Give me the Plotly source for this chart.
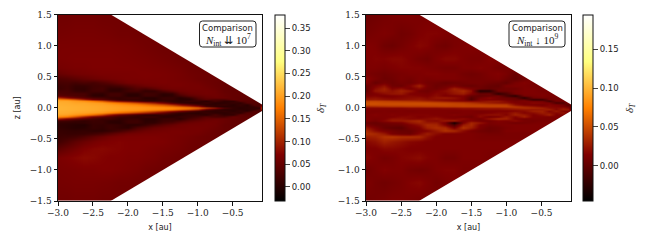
import numpy as np
import plotly.graph_objects as go

x_cols = [-3,-2.875,-2.75,-2.625,-2.5,-2.375,-2.25,-2.125,-2,-1.875,-1.75,-1.625,-1.5,-1.375,-1.25,-1.125,-1,-.875,-.75,-.625,-.5,-.4,-.3,-.2,-.12,-.08]
z_rows = [1.5,1.2,1.0,.8,.65,.55,.47,.41,.36,.31,.27,.23,.2,.17,.14,.11,.08,.05,.025,0,
          -.025,-.05,-.08,-.11,-.14,-.17,-.2,-.23,-.27,-.31,-.36,-.41,-.47,-.55,-.65,-.8,-1.0,-1.2,-1.5]

# delta_T, in units of 0.001
delta_left = [
[60,60,62,62,62,60,60,60,60,60,60,60,60,60,60,60,60,60,60,60,60,60,60,60,60,60],
[64,65,66,66,66,65,64,62,62,60,60,60,60,60,60,60,60,60,60,60,60,60,60,60,60,60],
[68,68,68,68,68,68,68,67,66,64,62,60,58,58,58,58,58,58,58,58,58,58,58,58,58,58],
[68,69,70,70,70,70,70,69,68,67,66,64,62,60,58,57,56,56,56,56,56,56,56,56,56,56],
[64,66,68,68,70,70,70,70,70,69,68,67,66,64,62,58,56,56,56,56,55,55,55,55,55,55],
[52,58,62,64,66,68,68,68,68,69,70,69,68,66,64,60,58,56,55,55,55,55,55,55,55,55],
[34,38,44,50,56,60,64,66,68,68,69,68,68,66,64,62,58,56,55,55,55,55,55,55,55,55],
[26,28,24,30,26,34,42,54,62,64,66,66,68,66,66,64,62,58,55,52,52,52,52,52,52,52],
[20,24,14,14,22,24,22,28,40,50,58,62,64,66,66,64,64,60,56,52,50,50,50,50,50,50],
[18,24,12,10,22,26,10,8,22,36,30,44,58,62,62,64,64,62,58,52,50,50,50,50,50,50],
[26,28,14,12,24,24,8,8,24,28,12,14,36,50,60,62,62,62,60,52,50,50,50,50,50,50],
[34,30,30,28,10,8,24,24,6,6,22,20,6,10,44,56,60,62,60,54,50,50,50,50,50,50],
[44,38,32,28,8,6,22,22,4,4,20,18,4,8,26,44,52,58,60,54,50,50,50,50,50,50],
[110,80,60,44,30,26,14,12,18,18,2,2,16,16,2,14,40,52,56,56,50,48,48,48,48,48],
[190,175,150,110,70,50,30,14,14,12,8,4,14,14,2,0,26,40,30,30,52,46,45,45,45,45],
[205,205,195,185,165,135,95,60,40,24,8,6,12,4,2,14,14,4,28,10,10,44,42,42,40,40],
[212,210,205,205,200,195,180,165,150,130,110,90,60,30,12,4,4,16,6,6,14,8,38,38,35,35],
[214,212,210,208,205,202,198,192,185,178,165,150,135,110,80,50,25,8,8,14,4,14,4,36,30,60],
[216,214,212,210,208,205,202,198,195,192,188,182,175,165,150,130,100,40,14,4,8,8,6,12,30,110],
[216,214,212,210,208,205,203,200,197,195,192,190,188,185,178,170,155,125,90,35,10,4,8,10,6,150],
[216,214,212,210,208,205,202,198,195,192,188,182,175,165,150,130,100,40,14,4,8,8,6,12,30,110],
[214,212,210,208,205,202,198,192,185,178,165,148,130,105,78,48,25,10,8,14,4,14,4,36,30,60],
[212,210,205,203,198,192,178,160,145,125,105,85,55,28,12,6,4,14,8,6,14,8,38,38,35,35],
[205,202,192,180,160,130,90,55,36,22,10,6,14,6,4,14,12,6,28,10,10,44,42,42,40,40],
[185,170,140,100,64,44,30,18,14,8,14,14,4,6,14,16,26,40,30,30,52,46,45,45,45,45],
[100,70,50,36,24,16,20,8,14,14,4,4,16,18,6,28,40,52,56,56,50,48,48,48,48,48],
[24,22,16,10,18,16,6,6,20,20,6,6,18,20,30,44,52,58,60,54,50,50,50,50,50,50],
[12,10,8,10,16,16,6,4,18,18,8,10,26,34,48,56,60,62,60,54,50,50,50,50,50,50],
[8,6,2,0,14,12,16,12,6,6,16,30,42,52,60,62,62,62,60,52,50,50,50,50,50,50],
[10,6,2,4,14,10,18,12,8,32,42,54,58,62,62,64,64,62,58,52,50,50,50,50,50,50],
[14,12,10,12,8,8,14,24,38,50,58,62,64,66,66,64,64,60,56,52,50,50,50,50,50,50],
[16,14,14,16,22,30,42,54,62,64,66,66,68,66,66,64,62,58,55,52,52,52,52,52,52,52],
[18,20,24,34,46,56,64,68,70,70,70,70,68,66,64,62,58,56,55,55,55,55,55,55,55,55],
[22,34,46,56,64,70,72,74,72,72,72,71,70,66,64,60,58,56,55,55,55,55,55,55,55,55],
[44,54,62,72,76,78,76,74,72,72,70,68,66,64,62,58,56,56,56,56,55,55,55,55,55,55],
[68,72,76,80,78,74,72,72,70,70,68,66,62,60,58,57,56,56,56,56,56,56,56,56,56,56],
[66,67,68,70,70,72,72,70,68,66,62,60,58,58,58,58,58,58,58,58,58,58,58,58,58,58],
[64,65,66,66,66,65,64,62,62,60,60,60,60,60,60,60,60,60,60,60,60,60,60,60,60,60],
[60,60,62,62,62,60,60,60,60,60,60,60,60,60,60,60,60,60,60,60,60,60,60,60,60,60],
]
delta_right = [
[6,8,10,12,14,14,12,12,12,12,12,12,12,12,12,12,12,12,12,12,12,12,12,12,12,12],
[10,12,14,12,8,10,14,16,16,14,12,12,12,12,12,12,12,12,12,12,12,12,12,12,12,12],
[16,14,8,6,10,14,18,16,10,8,12,14,16,14,12,12,12,12,12,12,12,12,12,12,12,12],
[14,16,16,18,18,14,10,8,14,18,18,14,12,12,16,16,14,12,12,12,12,12,12,12,12,12],
[14,14,12,14,16,16,16,14,12,10,10,14,14,16,14,10,10,14,14,14,14,14,14,14,14,14],
[12,10,8,10,12,14,14,16,16,14,14,10,8,10,14,16,12,4,12,14,14,14,14,14,14,14],
[18,12,6,8,12,10,14,12,14,14,14,12,10,10,12,14,8,2,8,16,14,14,14,14,14,14],
[16,4,10,6,10,8,14,10,8,4,6,8,10,10,8,6,2,12,16,12,10,10,10,10,10,10],
[6,14,22,8,6,16,30,12,6,8,12,6,4,8,4,2,12,14,14,12,10,10,10,10,10,10],
[4,20,30,16,22,12,18,10,8,14,30,22,14,6,2,6,8,8,14,14,12,12,12,12,12,12],
[2,24,28,22,30,24,10,8,14,20,28,34,22,-28,-26,8,8,12,14,14,12,12,12,12,12,12],
[10,14,20,24,26,14,14,12,18,16,24,28,16,4,6,-22,-10,10,14,14,14,12,12,12,12,12],
[14,16,12,14,16,18,16,14,20,14,14,16,4,2,4,8,-10,-25,10,12,14,12,12,12,12,12],
[20,22,18,16,18,20,22,18,24,26,22,14,-4,10,18,10,6,2,-25,6,10,10,10,10,10,10],
[26,28,24,22,22,24,26,22,20,18,18,14,-6,16,14,12,10,6,4,-22,-20,8,10,10,10,10],
[44,44,42,40,38,36,34,30,26,22,18,16,14,18,24,24,16,10,14,8,6,-15,10,12,10,10],
[52,52,50,50,50,50,50,50,48,46,44,42,38,32,28,24,22,14,12,18,16,12,-10,-8,14,10],
[50,50,50,50,50,50,50,50,50,50,48,48,46,46,44,44,42,22,14,12,10,16,14,8,-6,8],
[30,32,34,36,36,38,38,40,40,42,42,44,44,44,44,44,44,40,32,26,20,18,16,14,8,0],
[18,18,18,18,18,20,20,20,20,22,22,24,24,26,28,28,30,34,36,34,30,20,18,22,16,2],
[14,14,14,14,14,14,14,14,14,14,14,16,16,18,18,18,20,22,24,24,26,30,18,28,26,6],
[14,12,14,12,14,12,14,14,14,14,14,14,14,12,14,14,14,16,20,30,30,16,28,14,14,12],
[12,14,14,14,14,14,14,14,14,14,12,14,14,12,14,18,18,26,16,20,28,22,18,24,14,14],
[14,16,14,16,14,16,16,16,14,14,16,14,12,18,22,22,16,30,26,14,20,30,14,14,14,14],
[14,14,14,14,18,18,14,16,18,14,12,10,8,20,10,14,26,16,30,14,14,12,14,14,14,14],
[16,12,14,22,22,18,18,20,24,18,16,20,14,10,24,32,30,14,10,12,12,12,12,12,12,12],
[14,10,18,26,26,30,34,20,18,26,28,12,16,10,10,16,14,20,12,10,12,12,12,12,12,12],
[6,4,8,10,12,24,30,26,26,10,-35,12,32,24,12,14,12,8,10,12,14,14,14,14,14,14],
[12,6,4,6,6,14,22,34,32,14,-10,26,34,14,10,12,14,14,14,14,14,14,14,14,14,14],
[24,14,4,0,-2,10,14,30,36,34,12,38,28,12,6,8,12,14,14,14,14,14,14,14,14,14],
[34,20,12,8,4,4,12,16,26,38,34,20,12,8,6,8,14,14,14,14,14,14,14,14,14,14],
[38,34,26,12,8,6,18,28,20,14,14,14,14,12,10,10,12,12,12,12,12,12,12,12,12,12],
[28,30,38,40,36,36,34,22,14,14,14,14,14,12,12,12,12,12,12,12,12,12,12,12,12,12],
[18,22,30,26,22,18,16,14,14,14,14,14,14,14,14,14,14,14,14,14,14,14,14,14,14,14],
[14,14,18,18,16,14,14,14,14,14,14,14,14,14,14,14,14,14,14,14,14,14,14,14,14,14],
[18,14,10,12,16,18,20,16,14,10,10,14,14,14,12,12,12,12,12,12,12,12,12,12,12,12],
[8,12,16,14,14,10,8,10,14,16,16,12,12,12,12,12,12,12,12,12,12,12,12,12,12,12],
[14,10,8,10,12,16,18,14,10,12,14,12,12,12,12,12,12,12,12,12,12,12,12,12,12,12],
[8,10,12,14,14,12,10,10,12,14,14,14,14,14,14,14,14,14,14,14,14,14,14,14,14,14],
]

unit = 0.001
wedge_top_x = [-2.246, -0.08, -0.08]
wedge_top_z = [1.5, 0.053, 1.5]
wedge_bot_x = [-2.246, -0.08, -0.08]
wedge_bot_z = [-1.5, -0.053, -1.5]
left_ticks = [0.0,0.05,0.10,0.15,0.20,0.25,0.30,0.35]
right_ticks = [0.0,0.05,0.10,0.15]
x_ticks = [-3.0,-2.5,-2.0,-1.5,-1.0,-0.5]
z_ticks = [-1.5,-1.0,-0.5,0.0,0.5,1.0,1.5]
afmhot = [[0,"rgb(0,0,0)"],[.25,"rgb(128,0,0)"],[.5,"rgb(255,128,0)"],[.75,"rgb(255,255,128)"],[1,"rgb(255,255,255)"]]

W, H = 645, 245
top, bot = 14.5, 201
dom_y = [1-bot/H, 1-top/H]
serif = "DejaVu Serif, serif"
lserif = "Liberation Serif, serif"
sans = "DejaVu Sans, sans-serif"

fig = go.Figure()
z_asc = np.array(z_rows)[::-1]

def add_panel(table, zmin, zmax, ticks, xa, ya, cb_left):
    fig.add_trace(go.Heatmap(
        x=x_cols, y=z_asc, z=np.array(table)[::-1]*unit, xaxis=xa, yaxis=ya,
        zsmooth="best", zmin=zmin, zmax=zmax, colorscale=afmhot, hoverinfo="skip",
        colorbar=dict(x=cb_left/W, xanchor="left", xref="paper", y=dom_y[1], yanchor="top", yref="paper",
                      len=dom_y[1]-dom_y[0], lenmode="fraction", thickness=9.5, thicknessmode="pixels",
                      xpad=0, ypad=0, outlinewidth=1, outlinecolor="#111",
                      tickvals=ticks, tickformat=".2f", ticks="outside", ticklen=5, tickwidth=1,
                      tickfont=dict(family=sans, size=8.5, color="#222"))))
    for wx, wz in ((wedge_top_x, wedge_top_z), (wedge_bot_x, wedge_bot_z)):
        fig.add_trace(go.Scatter(x=wx, y=wz, xaxis=xa, yaxis=ya, mode="lines", fill="toself",
                                 fillcolor="white", line=dict(width=0, color="white"),
                                 hoverinfo="skip", showlegend=False))

add_panel(delta_left, -0.03, 0.38, left_ticks, "x", "y", 275)
add_panel(delta_right, -0.045, 0.195, right_ticks, "x2", "y2", 583)

axis = dict(range=[-3, -0.08], tickvals=x_ticks, tickformat=".1f", ticks="outside", ticklen=3.5, tickwidth=1,
            tickcolor="#111", showline=True, linecolor="#111", linewidth=1, mirror=True, showgrid=False, zeroline=False,
            tickfont=dict(family=serif, size=9, color="#222"),
            title=dict(text="x [au]", font=dict(family=sans, size=8, color="#222"), standoff=7))
yaxis = dict(range=[-1.5, 1.5], tickvals=z_ticks, tickformat=".1f", ticks="outside", ticklen=3.5, tickwidth=1,
             tickcolor="#111", showline=True, linecolor="#111", linewidth=1, mirror=True, showgrid=False, zeroline=False,
             tickfont=dict(family=serif, size=9, color="#222"))

def box(x0, x1, y0, y1, r=3):
    f = lambda px: px/W
    g = lambda py: 1-py/H
    return (f"M {f(x0+r)} {g(y0)} L {f(x1-r)} {g(y0)} Q {f(x1)} {g(y0)} {f(x1)} {g(y0+r)} "
            f"L {f(x1)} {g(y1-r)} Q {f(x1)} {g(y1)} {f(x1-r)} {g(y1)} "
            f"L {f(x0+r)} {g(y1)} Q {f(x0)} {g(y1)} {f(x0)} {g(y1-r)} "
            f"L {f(x0)} {g(y0+r)} Q {f(x0)} {g(y0)} {f(x0+r)} {g(y0)} Z")

shapes = [dict(type="path", xref="paper", yref="paper", path=box(199.5,256,21,47), fillcolor="white",
               line=dict(color="#222", width=1), layer="above"),
          dict(type="path", xref="paper", yref="paper", path=box(509,565,21,47), fillcolor="white",
               line=dict(color="#222", width=1), layer="above")]

def label(cx, arrow, exp, bar_px):
    return [dict(xref="paper", yref="paper", x=cx/W, y=1-27.5/H, text="Comparison", showarrow=False,
                 font=dict(family=sans, size=8.5, color="#222"), xanchor="center", yanchor="middle"),
            dict(xref="paper", yref="paper", x=cx/W, y=1-40/H,
                 text=f"<i>N</i><sub>int</sub>&nbsp;{arrow}&nbsp;10<sup>{exp}</sup>", showarrow=False,
                 font=dict(family=lserif, size=11, color="#222"), xanchor="center", yanchor="middle"),
            dict(xref="paper", yref="paper", x=bar_px/W, y=1-108/H, text="<i>δ<sub>T</sub></i>", showarrow=False,
                 textangle=-90, font=dict(family=lserif, size=11, color="#222"), xanchor="center", yanchor="middle")]

fig.update_layout(
    width=W, height=H, autosize=False, margin=dict(l=0, r=0, t=0, b=0, autoexpand=False),
    paper_bgcolor="white", plot_bgcolor="white", showlegend=False,
    shapes=shapes, annotations=label(227.5, "⇊", 7, 321)+label(537, "↓", 9, 630),
    xaxis=dict(axis, domain=[58/W, 262/W], anchor="y"),
    yaxis=dict(yaxis, domain=dom_y, anchor="x",
               title=dict(text="z [au]", font=dict(family=sans, size=8, color="#222"), standoff=8)),
    xaxis2=dict(axis, domain=[366/W, 571/W], anchor="y2"),
    yaxis2=dict(yaxis, domain=dom_y, anchor="x2"),
)
fig.write_html("out.html", config={"displayModeBar": False},
               post_script="document.body.style.margin='0';document.documentElement.style.overflow='hidden';")
